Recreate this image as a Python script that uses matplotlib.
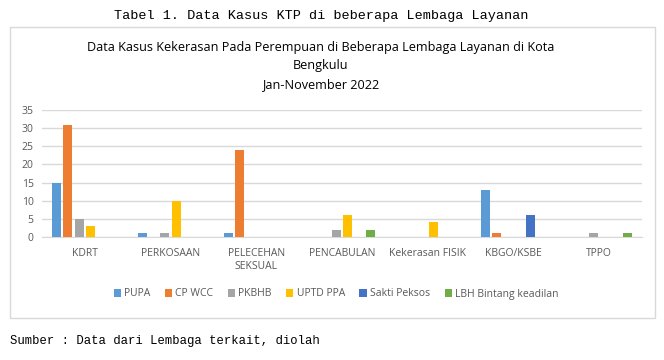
import matplotlib.pyplot as plt
import numpy as np
from matplotlib.patches import Rectangle

# data
kategori = ["KDRT", "PERKOSAAN", "PELECEHAN\nSEKSUAL", "PENCABULAN",
            "Kekerasan FISIK", "KBGO/KSBE", "TPPO"]
lembaga = ["PUPA", "CP WCC", "PKBHB", "UPTD PPA", "Sakti Peksos", "LBH Bintang keadilan"]
pupa = [15, 1, 1, 0, 0, 13, 0]
cp_wcc = [31, 0, 24, 0, 0, 1, 0]
pkbhb = [5, 1, 0, 2, 0, 0, 1]
uptd_ppa = [3, 10, 0, 6, 4, 0, 0]
sakti_peksos = [0, 0, 0, 0, 0, 6, 0]
lbh = [0, 0, 0, 2, 0, 0, 1]
warna = ["#5B9BD5", "#ED7D31", "#A5A5A5", "#FFC000", "#4472C4", "#70AD47"]

seri = [pupa, cp_wcc, pkbhb, uptd_ppa, sakti_peksos, lbh]

fig = plt.figure(figsize=(6.64, 3.60), dpi=100)
fig.patch.set_facecolor("white")

# ramka wykresu
fig.patches.append(Rectangle((10/664, 1 - 318/360), 645/664, 291/360,
                             transform=fig.transFigure, fill=False,
                             edgecolor="#d9d9d9", linewidth=1))

ax = fig.add_axes([42/664, 1 - 237/360, 600/664, 127/360])
x = np.arange(len(kategori))
krok = 0.132
szer = 0.105
for i, (s, nazwa) in enumerate(zip(seri, lembaga)):
    ax.bar(x + (i - 2.5) * krok, s, width=szer, color=warna[i], label=nazwa, zorder=3)

ax.set_xlim(-0.5, len(kategori) - 0.5)
ax.set_ylim(0, 35)
ax.set_yticks(range(0, 36, 5))
ax.set_xticks(x)
ax.set_xticklabels(kategori)
ax.grid(axis="y", color="#d9d9d9", linewidth=1, zorder=0)
for sp in ["top", "right", "left"]:
    ax.spines[sp].set_visible(False)
ax.spines["bottom"].set_color("#d9d9d9")
ax.tick_params(length=0, labelsize=7.5, labelcolor="#595959", pad=8)
ax.tick_params(axis="y", pad=6)
for t in ax.get_xticklabels() + ax.get_yticklabels():
    t.set_family("Open Sans")

fig.legend(loc="center", bbox_to_anchor=(336/664, 1 - 294/360), ncol=6, frameon=False,
           prop={"family": "Open Sans", "size": 7.5}, handlelength=0.7, handleheight=0.7,
           columnspacing=1.4, handletextpad=0.3, labelcolor="#595959")

fig.text(321/664, 1 - 47/360, "Data Kasus Kekerasan Pada Perempuan di Beberapa Lembaga Layanan di Kota",
         ha="center", va="center", fontsize=9.1, family="Open Sans", color="black")
fig.text(321/664, 1 - 66/360, "Bengkulu", ha="center", va="center", fontsize=9.1,
         family="Open Sans")
fig.text(321/664, 1 - 85/360, "Jan-November 2022", ha="center", va="center", fontsize=9.1,
         family="Open Sans")

fig.text(321/664, 1 - 16/360, "Tabel 1. Data Kasus KTP di beberapa Lembaga Layanan",
         ha="center", va="center", fontsize=9.7, family="Liberation Mono")
fig.text(10/664, 1 - 341/360, "Sumber : Data dari Lembaga terkait, diolah",
         ha="left", va="center", fontsize=8.8, family="Liberation Mono")

fig.savefig("out.png", dpi=100)
